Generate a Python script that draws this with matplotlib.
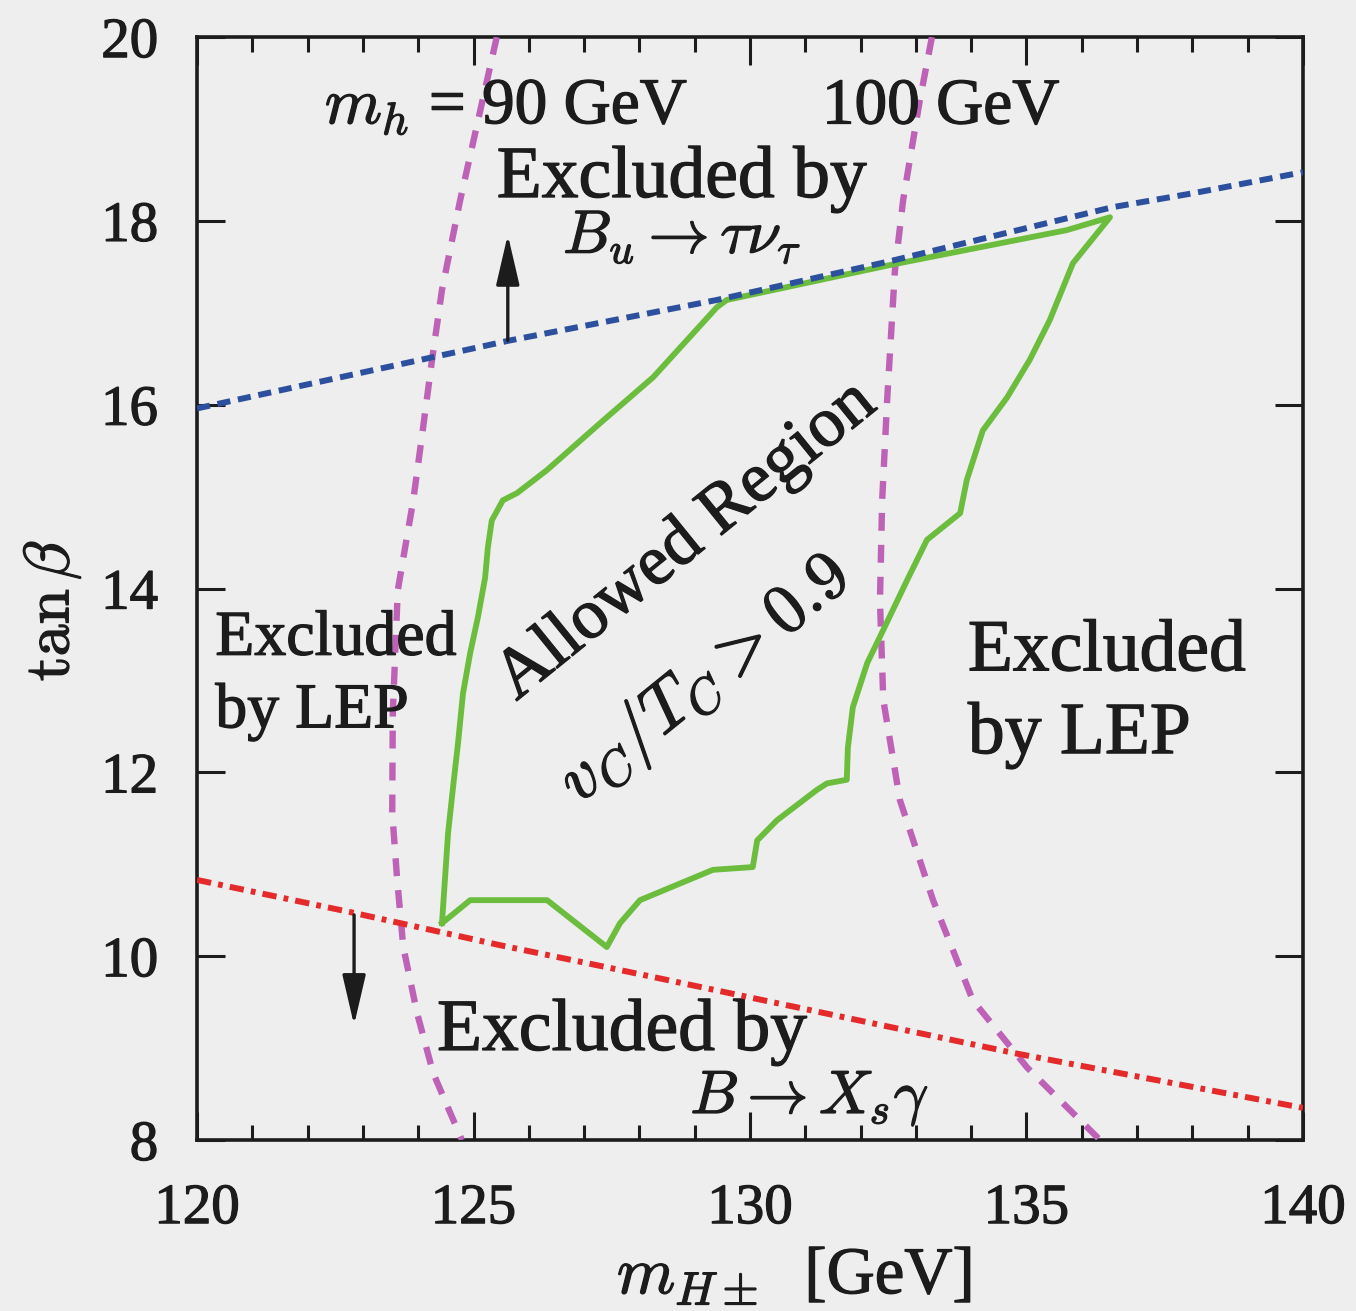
import matplotlib
matplotlib.use("Agg")
import matplotlib.pyplot as plt
import matplotlib.patheffects as pe
from matplotlib.ticker import MultipleLocator

plt.rcParams['font.family'] = ['Liberation Serif', 'DejaVu Serif']
plt.rcParams['mathtext.fontset'] = 'cm'

# LEP bound: m_h = 90 GeV contour (tan beta, m_H+-)
mh90_tanb = [20.0, 18.23, 17.25, 16.49, 15.76, 14.96, 13.98, 12.64, 11.56, 10.83, 10.10, 9.38, 8.73, 8.0]
mh90_mH = [125.42, 124.76, 124.43, 124.25, 124.09, 123.91, 123.63, 123.54, 123.53, 123.62, 123.73, 123.98, 124.27, 124.79]

# LEP bound: m_h = 100 GeV contour
mh100_tanb = [20.0, 19.31, 18.23, 17.46, 16.05, 14.96, 13.87, 12.79, 11.70, 10.61, 9.52, 8.79, 8.0]
mh100_mH = [133.29, 133.07, 132.77, 132.62, 132.48, 132.39, 132.35, 132.41, 132.71, 133.31, 134.03, 135.01, 136.33]

# B_u -> tau nu_tau bound
btau_mH = [120.0, 125.66, 129.4, 132.59, 136.56, 138.0, 140.0]
btau_tanb = [15.96, 16.70, 17.14, 17.57, 18.15, 18.30, 18.53]

# B -> X_s gamma bound
bsg_mH = [120.0, 122.77, 125.48, 127.41, 132.22, 134.83, 140.0]
bsg_tanb = [10.83, 10.48, 10.12, 9.88, 9.27, 8.94, 8.35]

# Boundary of the region with v_C/T_C > 0.9
region_mH = [124.43, 124.54, 124.63, 124.72, 124.81, 124.94, 125.08, 125.21, 125.26, 125.33,
             125.53, 125.79, 126.33, 127.29, 128.25, 129.40, 129.58, 132.53, 135.73, 136.51,
             135.84, 135.42, 135.06, 134.65, 134.21, 133.92, 133.80, 133.20, 132.84, 132.41,
             132.12, 131.86, 131.77, 131.75, 131.39, 131.21, 130.49, 130.13, 130.05, 129.33,
             128.01, 127.65, 127.41, 126.33, 124.94, 124.43]
region_tanb = [10.36, 11.34, 11.84, 12.32, 12.86, 13.30, 13.69, 14.12, 14.45, 14.74,
               14.96, 15.04, 15.29, 15.80, 16.30, 17.06, 17.14, 17.52, 17.90, 18.04,
               17.54, 16.92, 16.49, 16.08, 15.72, 15.18, 14.82, 14.53, 14.09, 13.55,
               13.19, 12.71, 12.27, 11.92, 11.88, 11.81, 11.48, 11.26, 10.97, 10.94,
               10.61, 10.36, 10.10, 10.61, 10.61, 10.36]

x_ticks = [120, 125, 130, 135, 140]
y_ticks = [8, 10, 12, 14, 16, 18, 20]

BG = '#eeeeee'
INK = '#1c1c1c'
MAGENTA = '#bd62b6'
BLUE = '#2c4f9e'
RED = '#e42a2a'
GREEN = '#6cbd3e'

# slightly heavier glyphs
heavy = [pe.withStroke(linewidth=0.9, foreground=INK)]

fig = plt.figure(figsize=(13.56, 13.11), dpi=100, facecolor=BG)
ax = fig.add_axes([0.1453, 0.1304, 0.8156, 0.8413], facecolor=BG)

ax.plot(mh90_mH, mh90_tanb, color=MAGENTA, lw=4.6, dashes=[2.8, 2.2], zorder=3)
ax.plot(mh100_mH, mh100_tanb, color=MAGENTA, lw=4.6, dashes=[2.8, 2.2], zorder=3)
ax.plot(region_mH, region_tanb, color=GREEN, lw=4.2, solid_joinstyle='round', zorder=4)
ax.plot(btau_mH, btau_tanb, color=BLUE, lw=4.3, dashes=[2.2, 1.3], zorder=5)
ax.plot(bsg_mH, bsg_tanb, color=RED, lw=4.3, dashes=[2.4, 1.2, 0.8, 1.2], zorder=5)

arrow_kw = dict(arrowstyle='-|>,head_length=1.55,head_width=0.36', lw=2.4,
                color=INK, mutation_scale=20, shrinkA=0, shrinkB=0)
ax.annotate('', xy=(125.62, 17.85), xytext=(125.62, 16.70), arrowprops=arrow_kw, zorder=6)
ax.annotate('', xy=(122.84, 9.25), xytext=(122.84, 10.45), arrowprops=arrow_kw, zorder=6)

txt = dict(color=INK, va='baseline', ha='left', path_effects=heavy)
ax.text(122.31, 19.06, r'$m_h$ = 90 GeV', fontsize=47, **txt)
ax.text(131.30, 19.06, '100 GeV', fontsize=47, **txt)
ax.text(125.42, 18.26, 'Excluded by', fontsize=53, **txt)
ax.text(126.62, 17.65, r'$B_u \rightarrow \tau\nu_\tau$', fontsize=44, **txt)
ax.text(120.33, 13.28, 'Excluded', fontsize=46, **txt)
ax.text(120.33, 12.49, 'by LEP', fontsize=46, **txt)
ax.text(133.94, 13.11, 'Excluded', fontsize=53, **txt)
ax.text(133.94, 12.21, 'by LEP', fontsize=53, **txt)
ax.text(124.34, 8.98, 'Excluded by', fontsize=53, **txt)
ax.text(128.92, 8.29, r'$B \rightarrow X_s\gamma$', fontsize=44, **txt)
ax.text(128.85, 14.52, 'Allowed Region', fontsize=51, color=INK, rotation=39,
        rotation_mode='anchor', ha='center', va='center', path_effects=heavy)
ax.text(129.19, 13.0, r'$v_C/T_C > 0.9$', fontsize=50, color=INK, rotation=39,
        rotation_mode='anchor', ha='center', va='center', path_effects=heavy)

ax.set_xlim(120, 140)
ax.set_ylim(8, 20)
ax.set_xticks(x_ticks)
ax.set_yticks(y_ticks)
ax.xaxis.set_minor_locator(MultipleLocator(1))
ax.tick_params(which='both', direction='in', top=True, right=True, width=2.2, color=INK)
ax.tick_params(which='major', length=20, labelsize=41, labelcolor=INK)
ax.tick_params(axis='x', which='major', pad=31)
ax.tick_params(axis='y', which='major', pad=28)
ax.tick_params(which='minor', length=11)
for lab in ax.get_xticklabels() + ax.get_yticklabels():
    lab.set_path_effects(heavy)
for s in ax.spines.values():
    s.set_linewidth(2.6)
    s.set_color(INK)

ax.set_xlabel(r'$m_{H\pm}$  [GeV]', fontsize=48, color=INK, path_effects=heavy)
ax.set_ylabel(r'$\tan\beta$', fontsize=46, color=INK, path_effects=heavy)
ax.xaxis.set_label_coords(0.54, -0.095)
ax.yaxis.set_label_coords(-0.103, 0.48)

fig.savefig('out.png', dpi=100, facecolor=BG)
